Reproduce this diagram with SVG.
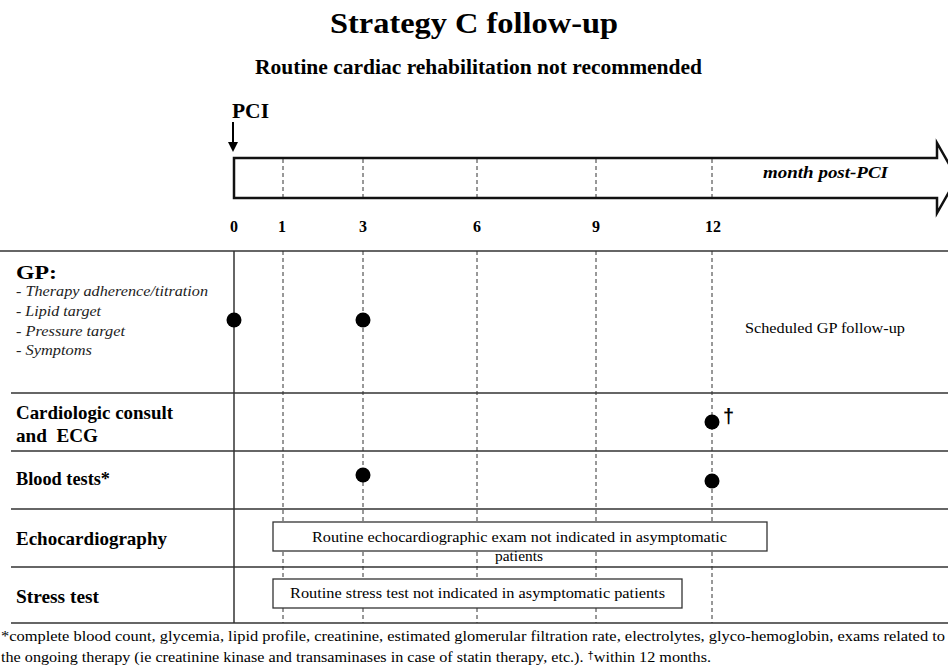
<svg xmlns="http://www.w3.org/2000/svg" width="948" height="672" viewBox="0 0 948 672">
<style>
text{font-family:"Liberation Serif","Times New Roman",serif;fill:#000}
.b{font-weight:bold}
.i{font-style:italic}
.row{font-size:19px;font-weight:bold}
.gpi{font-size:15px;font-style:italic;fill:#222}
.tick{font-size:16px;font-weight:bold;text-anchor:middle}
.box{fill:#fff;stroke:#333;stroke-width:1.3}
.boxt{font-size:15px}
.hl{stroke:#333;stroke-width:1.5;fill:none}
.dash{stroke:#333;stroke-width:1;stroke-dasharray:4 3;fill:none}
.dot{fill:#000}
.foot{font-size:14.5px}
</style>
<defs>
<marker id="ah" markerWidth="10" markerHeight="10" refX="5" refY="5" orient="auto" markerUnits="userSpaceOnUse">
<path d="M0,0 L10,5 L0,10 z" fill="#000"/>
</marker>
</defs>
<rect width="948" height="672" fill="#fff"/>

<g id="title">
<text class="b" x="330" y="33" font-size="30" textLength="288" lengthAdjust="spacingAndGlyphs">Strategy C follow-up</text>
<text class="b" x="255" y="74" font-size="20" textLength="447" lengthAdjust="spacingAndGlyphs">Routine cardiac rehabilitation not recommended</text>
</g>

<g id="timeline">
<text class="b" x="232" y="118" font-size="20" textLength="37" lengthAdjust="spacingAndGlyphs">PCI</text>
<polygon points="234,158 937,158 937,143 957,178 937,213 937,198 234,198" fill="#fff" stroke="#111" stroke-width="2.5" stroke-linejoin="miter"/>
<text class="b i" x="763" y="178" font-size="17" textLength="125" lengthAdjust="spacingAndGlyphs">month post-PCI</text>
<text class="tick" x="234" y="232">0</text>
<text class="tick" x="282" y="232">1</text>
<text class="tick" x="363" y="232">3</text>
<text class="tick" x="477" y="232">6</text>
<text class="tick" x="596" y="232">9</text>
<text class="tick" x="713" y="232">12</text>
</g>

<g id="connectors">
<line x1="233" y1="122" x2="233" y2="147" stroke="#000" stroke-width="2" marker-end="url(#ah)"/>
<g class="dash">
<line x1="283" y1="159" x2="283" y2="197"/>
<line x1="363" y1="159" x2="363" y2="197"/>
<line x1="477" y1="159" x2="477" y2="197"/>
<line x1="596" y1="159" x2="596" y2="197"/>
<line x1="712" y1="159" x2="712" y2="197"/>
<line x1="283" y1="251" x2="283" y2="623"/>
<line x1="363" y1="251" x2="363" y2="623"/>
<line x1="477" y1="251" x2="477" y2="623"/>
<line x1="596" y1="251" x2="596" y2="623"/>
<line x1="712" y1="251" x2="712" y2="623"/>
</g>
<line class="hl" x1="0" y1="251" x2="948" y2="251" stroke="#666"/>
<line class="hl" x1="11" y1="393" x2="948" y2="393"/>
<line class="hl" x1="11" y1="451" x2="948" y2="451"/>
<line class="hl" x1="11" y1="509" x2="948" y2="509"/>
<line class="hl" x1="11" y1="567" x2="948" y2="567"/>
<line class="hl" x1="11" y1="623" x2="948" y2="623"/>
<line class="hl" x1="234" y1="251" x2="234" y2="623"/>
</g>

<g id="gp">
<text class="b" x="16" y="279" font-size="18" textLength="41" lengthAdjust="spacingAndGlyphs">GP:</text>
<text class="gpi" x="16" y="296" textLength="192" lengthAdjust="spacingAndGlyphs">- Therapy adherence/titration</text>
<text class="gpi" x="16" y="316" textLength="85" lengthAdjust="spacingAndGlyphs">- Lipid target</text>
<text class="gpi" x="16" y="336" textLength="109" lengthAdjust="spacingAndGlyphs">- Pressure target</text>
<text class="gpi" x="16" y="355" textLength="76" lengthAdjust="spacingAndGlyphs">- Symptoms</text>
<circle class="dot" cx="234" cy="320" r="7.5"/>
<circle class="dot" cx="363" cy="320" r="7.5"/>
<text x="745" y="333" font-size="15" textLength="160" lengthAdjust="spacingAndGlyphs" fill="#222">Scheduled GP follow-up</text>
</g>

<g id="cardio">
<text class="row" x="16" y="419" textLength="157" lengthAdjust="spacingAndGlyphs">Cardiologic consult</text>
<text class="row" x="16" y="442" textLength="82" lengthAdjust="spacingAndGlyphs" xml:space="preserve">and  ECG</text>
<circle class="dot" cx="712" cy="422" r="7.5"/>
<text x="723" y="423" font-size="20" font-weight="bold" style="font-family:'Liberation Sans',Arial,sans-serif">†</text>
</g>

<g id="blood">
<text class="row" x="16" y="485" textLength="94" lengthAdjust="spacingAndGlyphs">Blood tests*</text>
<circle class="dot" cx="363" cy="475" r="7.5"/>
<circle class="dot" cx="712" cy="481" r="7.5"/>
</g>

<g id="echo">
<text class="row" x="16" y="545" textLength="151" lengthAdjust="spacingAndGlyphs">Echocardiography</text>
<rect class="box" x="273" y="522" width="494" height="29"/>
<text class="boxt" x="312" y="542" textLength="415" lengthAdjust="spacingAndGlyphs">Routine echocardiographic exam not indicated in asymptomatic</text>
<text class="boxt" x="495" y="561" textLength="48" lengthAdjust="spacingAndGlyphs">patients</text>
</g>

<g id="stress">
<text class="row" x="16" y="603" textLength="83" lengthAdjust="spacingAndGlyphs">Stress test</text>
<rect class="box" x="273" y="579" width="409" height="29"/>
<text class="boxt" x="290" y="598" textLength="375" lengthAdjust="spacingAndGlyphs">Routine stress test not indicated in asymptomatic patients</text>
</g>

<g id="footnote">
<text class="foot" x="1" y="641" textLength="944" lengthAdjust="spacingAndGlyphs">*complete blood count, glycemia, lipid profile, creatinine, estimated glomerular filtration rate, electrolytes, glyco-hemoglobin,  exams related to</text>
<text class="foot" x="1" y="662" textLength="710" lengthAdjust="spacingAndGlyphs">the ongoing therapy  (ie creatinine kinase and transaminases in case of statin therapy, etc.). <tspan font-size="10" dy="-3" style="font-family:'Liberation Sans',Arial,sans-serif">†</tspan><tspan dy="3">within 12 months.</tspan></text>
</g>
</svg>
